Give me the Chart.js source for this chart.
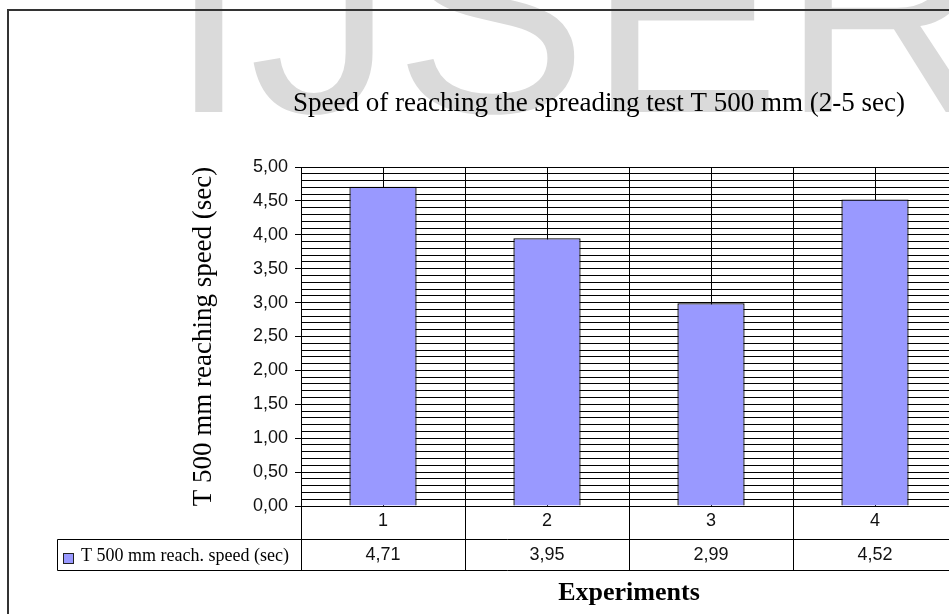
<!DOCTYPE html>
<html>
<head>
<meta charset="utf-8">
<title>Speed of reaching the spreading test T 500 mm</title>
<script src="https://cdn.jsdelivr.net/npm/chart.js@4.4.1/dist/chart.umd.min.js"></script>
<style>
  html, body { margin: 0; padding: 0; background: #ffffff; overflow: hidden; }
  #wrap { position: absolute; left: 0; top: 0; width: 949px; height: 614px; overflow: hidden; }
  canvas { display: block; }
</style>
</head>
<body>
<div id="wrap"><canvas id="chart" width="1190" height="614" style="width:1190px;height:614px"></canvas></div>
<script>
// Experiment numbers and measured T 500 mm times (seconds)
const categories = ['1', '2', '3', '4'];
const speedValues = [4.71, 3.95, 2.99, 4.52];
const seriesLabel = 'T 500 mm reach. speed (sec)';

// Value axis range: labelled every 0.5 s, fine grid every 0.1 s
const yRange = [0, 5];
const yMajorStep = 0.5;
const yMinorStep = 0.1;

const chartTitle = 'Speed of reaching the spreading test T 500 mm (2-5 sec)';
const yTitle = 'T 500 mm reaching speed (sec)';
const xTitle = 'Experiments';
const watermark = 'IJSER';

const SERIF = '"Liberation Serif", "Times New Roman", serif';
const SANS = '"Liberation Sans", Arial, sans-serif';
const BAR_FILL = '#9999ff';

const fmtComma = v => v.toFixed(2).replace('.', ',');
const isMajor = v => Math.abs(v / yMajorStep - Math.round(v / yMajorStep)) < 1e-6;

// White page + faint watermark behind everything
const backdrop = {
  id: 'backdrop',
  beforeDraw(chart) {
    const c = chart.ctx;
    c.save();
    c.fillStyle = '#ffffff';
    c.fillRect(0, 0, chart.width, chart.height);
    c.font = '290px ' + SANS;
    c.fillStyle = '#dadada';
    c.textBaseline = 'alphabetic';
    c.textAlign = 'left';
    c.fillText(watermark, 168.5, 112);
    c.restore();
  }
};

// Frame of the chart object and the data table under the plot
const dataTable = {
  id: 'dataTable',
  afterDraw(chart) {
    const c = chart.ctx;
    const x = chart.scales.x;
    const area = chart.chartArea;
    const n = categories.length;
    const step = (area.right - area.left) / n;
    const row1Bottom = 539.5;
    const row2Bottom = 570.5;
    const tableLeft = 57.5;

    c.save();
    // outer frame (top and left edges)
    c.strokeStyle = '#333333';
    c.lineWidth = 2;
    c.beginPath();
    c.moveTo(7, 10);
    c.lineTo(chart.width, 10);
    c.moveTo(8, 9);
    c.lineTo(8, chart.height);
    c.stroke();

    // table grid
    c.strokeStyle = '#000000';
    c.lineWidth = 1;
    c.beginPath();
    c.moveTo(tableLeft, row1Bottom);
    c.lineTo(area.right, row1Bottom);
    c.moveTo(tableLeft, row2Bottom);
    c.lineTo(area.right, row2Bottom);
    c.moveTo(tableLeft, row1Bottom);
    c.lineTo(tableLeft, row2Bottom);
    for (let i = 0; i <= n; i++) {
      const bx = Math.round(area.left + i * step) + 0.5;
      c.moveTo(bx, area.bottom);
      c.lineTo(bx, row2Bottom);
    }
    c.stroke();

    // legend key + series name
    const ds = chart.data.datasets[0];
    c.fillStyle = ds.backgroundColor;
    c.fillRect(63.5, 553.5, 10, 10);
    c.strokeStyle = '#222222';
    c.strokeRect(63.5, 553.5, 10, 10);
    c.fillStyle = '#000000';
    c.font = '18px ' + SERIF;
    c.textBaseline = 'middle';
    c.textAlign = 'left';
    c.fillText(ds.label, 81, 556);

    // values row
    c.font = '18px ' + SANS;
    c.fillStyle = '#111111';
    c.textAlign = 'center';
    ds.data.forEach((v, i) => {
      c.fillText(fmtComma(v), x.getPixelForValue(i), 555);
    });
    c.restore();
  }
};

new Chart(document.getElementById('chart'), {
  type: 'bar',
  data: {
    labels: categories,
    datasets: [{
      label: seriesLabel,
      data: speedValues,
      backgroundColor: BAR_FILL,
      borderColor: '#000000',
      borderWidth: 1.3,
      barPercentage: 0.41,
      categoryPercentage: 1.0,
      xAxisID: 'x',
      yAxisID: 'y'
    }]
  },
  options: {
    responsive: false,
    animation: false,
    devicePixelRatio: 1,
    layout: { padding: { left: 8, right: 0, top: 0, bottom: 0 } },
    plugins: {
      legend: { display: false },
      tooltip: { enabled: false },
      title: {
        display: true,
        text: chartTitle,
        color: '#000000',
        font: { family: SERIF, size: 27, weight: 'normal', lineHeight: 1.2 },
        padding: { top: 88, bottom: 46.6 }
      }
    },
    scales: {
      x: {
        type: 'category',
        position: 'bottom',
        offset: true,
        grid: { offset: true, color: '#000000', lineWidth: 1, drawTicks: false },
        border: { display: true, color: '#000000', width: 1 },
        ticks: {
          color: '#111111',
          font: { family: SANS, size: 18, lineHeight: 1.2 },
          padding: 4.2,
          autoSkip: false,
          maxRotation: 0
        },
        title: {
          display: true,
          text: xTitle,
          color: '#000000',
          font: { family: SERIF, size: 26, weight: 'bold', lineHeight: 1.2 },
          padding: { top: 0, bottom: 5.4 }
        },
        afterFit(scale) { scale.height = 108; }
      },
      // vertical lines through the middle of each category
      xc: {
        type: 'category',
        position: 'bottom',
        offset: true,
        grid: { offset: false, color: '#000000', lineWidth: 1, drawTicks: false },
        border: { display: false },
        ticks: { display: false },
        afterFit(scale) { scale.height = 0; }
      },
      y: {
        type: 'linear',
        position: 'left',
        min: yRange[0],
        max: yRange[1],
        grid: {
          color: '#000000',
          lineWidth: 1,
          tickLength: 6,
          tickColor: ctx => (ctx.tick && isMajor(ctx.tick.value)) ? '#000000' : 'rgba(0,0,0,0)'
        },
        border: { display: true, color: '#000000', width: 1 },
        ticks: {
          stepSize: yMinorStep,
          autoSkip: false,
          padding: 7,
          color: '#111111',
          font: { family: SANS, size: 18, lineHeight: 1.2 },
          callback: v => isMajor(v) ? fmtComma(v) : ''
        },
        title: {
          display: true,
          text: yTitle,
          color: '#000000',
          font: { family: SERIF, size: 27, weight: 'normal', lineHeight: 1.2 },
          padding: { top: 179.8, bottom: 0 }
        },
        afterFit(scale) { scale.width = 293; }
      },
      // empty right-hand strip: the chart object continues past the page edge
      yr: {
        type: 'linear',
        position: 'right',
        display: true,
        grid: { display: false },
        border: { display: false },
        ticks: { display: false },
        afterFit(scale) { scale.width = 233; }
      }
    }
  },
  plugins: [backdrop, dataTable]
});
</script>
</body>
</html>
